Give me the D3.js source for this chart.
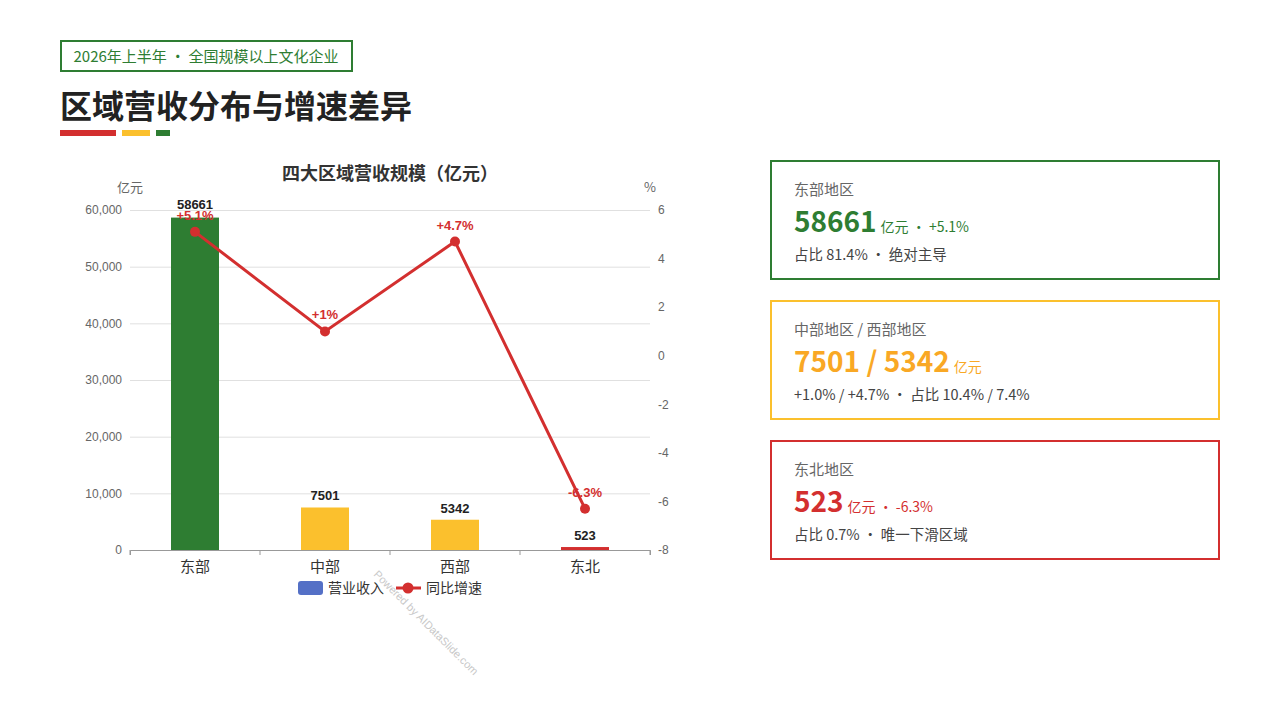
<!DOCTYPE html><html><head><meta charset="utf-8">
<script src="https://cdn.jsdelivr.net/npm/d3@7"></script>
<style>body{margin:0;background:#fff;font-family:"Noto Sans CJK SC","Noto Sans",sans-serif}</style></head><body>
<svg id="c" width="1280" height="720"></svg>
<script>
const categories=["东部","中部","西部","东北"];
const revenue=[58661,7501,5342,523];
const growth=[5.1,1.0,4.7,-6.3];
const growthLabels=["+5.1%","+1%","+4.7%","-6.3%"];
const barColors=["#2e7d32","#fbc02d","#fbc02d","#d32f2f"];
const leftTicks=[0,10000,20000,30000,40000,50000,60000];
const rightTicks=[-8,-6,-4,-2,0,2,4,6];
const svg=d3.select("#c");
const F='"Noto Sans CJK SC",sans-serif';
svg.append("rect").attr("x",61).attr("y",41).attr("width",291).attr("height",30).attr("fill","none").attr("stroke","#2e7d32").attr("stroke-width",2);
svg.append("text").attr("x",206).attr("y",62).attr("text-anchor","middle").attr("font-size",15).attr("fill","#2e7d32").attr("font-family",F).text("2026年上半年 · 全国规模以上文化企业");
svg.append("text").attr("x",60).attr("y",118).attr("font-size",32).attr("font-weight",700).attr("fill","#222").attr("font-family",F).text("区域营收分布与增速差异");
[[60,56,"#d32f2f"],[122,28,"#fbc02d"],[156,14,"#2e7d32"]].forEach(d=>svg.append("rect").attr("x",d[0]).attr("y",130).attr("width",d[1]).attr("height",6).attr("fill",d[2]));
const x=d3.scaleBand().domain(categories).range([130,650]);
const y=d3.scaleLinear().domain([0,60000]).range([550,210]);
const y2=d3.scaleLinear().domain([-8,6]).range([550,210]);
svg.append("text").attr("x",390).attr("y",180).attr("text-anchor","middle").attr("font-size",18).attr("font-weight",700).attr("fill","#333").attr("font-family",F).text("四大区域营收规模（亿元）");
svg.append("text").attr("x",130).attr("y",192).attr("text-anchor","middle").attr("font-size",13).attr("fill","#666").attr("font-family",F).text("亿元");
svg.append("text").attr("x",650).attr("y",192).attr("text-anchor","middle").attr("font-size",13).attr("fill","#666").attr("font-family",F).text("%");
const gy=svg.append("g").attr("transform","translate(130,0)").call(d3.axisLeft(y).tickValues(leftTicks).tickFormat(d3.format(",")).tickSize(-520).tickPadding(8));
gy.select(".domain").remove();gy.selectAll("line").attr("stroke","#e0e0e0");
gy.selectAll("text").attr("fill","#666").attr("font-size",12).attr("font-family","Liberation Sans");
const gy2=svg.append("g").attr("transform","translate(650,0)").call(d3.axisRight(y2).tickValues(rightTicks).tickFormat(d=>String(d)).tickSize(0).tickPadding(8));
gy2.select(".domain").remove();gy2.selectAll("text").attr("fill","#666").attr("font-size",12).attr("font-family","Liberation Sans");
const gx=svg.append("g").attr("transform","translate(0,550)").call(d3.axisBottom(x).tickSizeOuter(0).tickSize(5).tickPadding(6));
gx.selectAll("line").attr("stroke","#999");gx.select(".domain").attr("stroke","#999");
gx.selectAll(".tick line").attr("transform",`translate(${-x.bandwidth()/2},0)`);
gx.append("line").attr("x1",650).attr("x2",650).attr("y1",0).attr("y2",5).attr("stroke","#999");
gx.selectAll("text").attr("fill","#333").attr("font-size",15).attr("font-family",F);
const bw=48;
svg.selectAll(".bar").data(categories).join("rect").attr("x",d=>x(d)+x.bandwidth()/2-bw/2).attr("width",bw).attr("y",(d,i)=>y(revenue[i])).attr("height",(d,i)=>550-y(revenue[i])).attr("fill",(d,i)=>barColors[i]);
svg.selectAll(".bl").data(categories).join("text").attr("x",d=>x(d)+x.bandwidth()/2).attr("y",(d,i)=>y(revenue[i])-(i===0?9:7)).attr("text-anchor","middle").attr("font-size",13).attr("font-weight",700).attr("fill","#222").attr("font-family","Liberation Sans").text((d,i)=>revenue[i]);
const line=d3.line().x((d,i)=>x(categories[i])+x.bandwidth()/2).y(d=>y2(d));
svg.append("path").attr("d",line(growth)).attr("fill","none").attr("stroke","#d32f2f").attr("stroke-width",3);
svg.selectAll(".pt").data(growth).join("circle").attr("cx",(d,i)=>x(categories[i])+x.bandwidth()/2).attr("cy",d=>y2(d)).attr("r",5).attr("fill","#d32f2f");
svg.selectAll(".gl").data(growth).join("text").attr("x",(d,i)=>x(categories[i])+x.bandwidth()/2).attr("y",d=>y2(d)-12).attr("text-anchor","middle").attr("font-size",13).attr("font-weight",700).attr("fill","#d32f2f").attr("font-family","Liberation Sans").text((d,i)=>growthLabels[i]);
svg.append("rect").attr("x",298).attr("y",581).attr("width",25).attr("height",14).attr("rx",3).attr("fill","#5470c6");
svg.append("text").attr("x",328).attr("y",593).attr("font-size",14).attr("fill","#333").attr("font-family",F).text("营业收入");
svg.append("line").attr("x1",396).attr("x2",421).attr("y1",588).attr("y2",588).attr("stroke","#d32f2f").attr("stroke-width",3);
svg.append("circle").attr("cx",408).attr("cy",588).attr("r",5.5).attr("fill","#d32f2f");
svg.append("text").attr("x",426).attr("y",593).attr("font-size",14).attr("fill","#333").attr("font-family",F).text("同比增速");
svg.append("text").attr("transform","translate(373,575) rotate(45)").attr("font-size",11).attr("fill","#bbb").attr("font-family","Liberation Sans").attr("opacity",0.8).text("Powered by AIDataSlide.com");
const cards=[
 {y:161,c:"#2e7d32",tc:"#2e7d32",t:"东部地区",big:"58661",unit:"亿元 · +5.1%",sub:"占比 81.4% · 绝对主导"},
 {y:301,c:"#fbc02d",tc:"#f9a825",t:"中部地区 / 西部地区",big:"7501 / 5342",unit:"亿元",sub:"+1.0% / +4.7% · 占比 10.4% / 7.4%"},
 {y:441,c:"#d32f2f",tc:"#d32f2f",t:"东北地区",big:"523",unit:"亿元 · -6.3%",sub:"占比 0.7% · 唯一下滑区域"}];
cards.forEach(k=>{
 svg.append("rect").attr("x",771).attr("y",k.y).attr("width",448).attr("height",118).attr("fill","#fff").attr("stroke",k.c).attr("stroke-width",2);
 svg.append("text").attr("x",794).attr("y",k.y+34).attr("font-size",15).attr("fill","#666").attr("font-family",F).text(k.t);
 const b=svg.append("text").attr("x",794).attr("y",k.y+71).attr("fill",k.tc).attr("font-family",F);
 b.append("tspan").attr("font-size",28).attr("font-weight",700).text(k.big);
 b.append("tspan").attr("font-size",14).attr("dx",4).text(k.unit);
 svg.append("text").attr("x",794).attr("y",k.y+99).attr("font-size",14.5).attr("fill","#444").attr("font-family",F).text(k.sub);
});
</script></body></html>
